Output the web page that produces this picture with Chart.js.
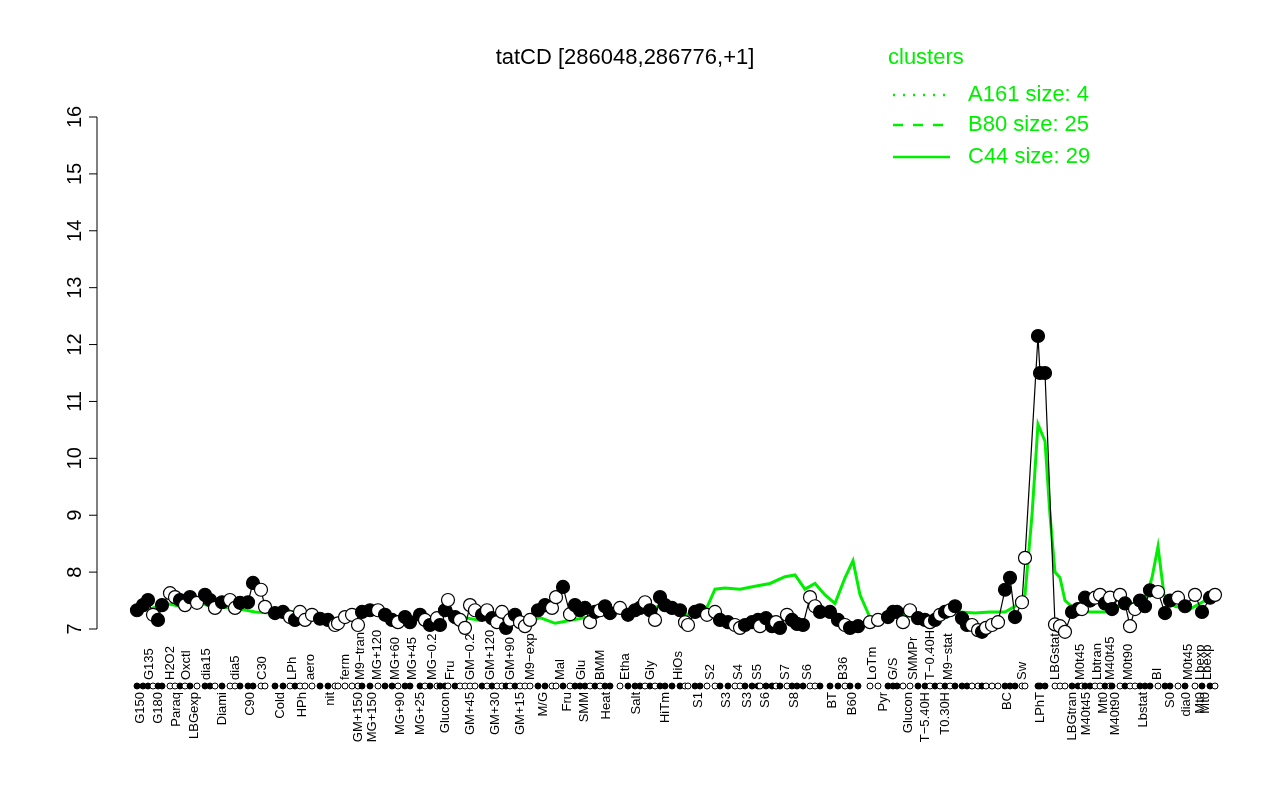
<!DOCTYPE html><html><head><meta charset="utf-8">
<script src="https://cdn.jsdelivr.net/npm/chart.js@4"></script>
<style>body{margin:0;background:#fff}</style></head><body><canvas id="c" width="1280" height="800" style="width:1280px;height:800px"></canvas>
<script>
const pointX=[137,143,148,153,158,162,170,175,180,185,190,197,205,210,215,222,230,235,240,248,253,261,265,275,283,290,295,300,305,312,320,328,335,338,345,352,358,362,370,378,385,392,398,405,410,420,425,430,437,440,445,448,455,460,465,470,475,482,487,492,497,502,506,510,515,520,525,530,538,545,552,556,563,570,575,580,585,590,595,600,605,610,620,628,635,640,645,650,655,660,665,672,680,685,688,695,700,707,715,720,728,735,740,745,752,758,760,766,772,776,780,787,792,797,803,810,815,820,830,838,845,850,858,870,878,888,893,897,903,910,918,925,930,935,940,945,950,955,962,967,972,978,982,986,992,998,1005,1010,1015,1022,1025,1038,1040,1045,1055,1060,1065,1072,1078,1082,1085,1090,1095,1100,1105,1110,1112,1120,1125,1130,1135,1140,1145,1150,1158,1165,1170,1178,1185,1195,1202,1210,1215];
const pointY=[7.33,7.42,7.51,7.25,7.16,7.42,7.63,7.56,7.51,7.42,7.56,7.46,7.6,7.51,7.37,7.47,7.51,7.37,7.46,7.47,7.81,7.69,7.39,7.28,7.3,7.21,7.16,7.3,7.16,7.25,7.18,7.16,7.07,7.1,7.21,7.25,7.07,7.3,7.33,7.33,7.25,7.16,7.12,7.21,7.12,7.25,7.16,7.07,7.19,7.07,7.33,7.51,7.21,7.16,7.02,7.42,7.33,7.25,7.33,7.19,7.12,7.3,7.02,7.16,7.25,7.12,7.05,7.16,7.33,7.42,7.37,7.56,7.74,7.26,7.42,7.33,7.37,7.12,7.3,7.33,7.4,7.28,7.37,7.25,7.33,7.37,7.47,7.33,7.16,7.56,7.42,7.37,7.33,7.12,7.07,7.3,7.33,7.25,7.3,7.16,7.12,7.07,7.02,7.07,7.12,7.16,7.05,7.19,7.05,7.12,7.02,7.25,7.16,7.09,7.07,7.56,7.4,7.3,7.3,7.16,7.07,7.02,7.05,7.12,7.16,7.21,7.3,7.3,7.12,7.33,7.19,7.16,7.12,7.16,7.25,7.3,7.33,7.4,7.19,7.07,7.07,6.98,6.95,7.02,7.07,7.12,7.69,7.9,7.21,7.47,8.25,12.15,11.5,11.5,7.08,7.05,6.95,7.3,7.35,7.35,7.55,7.5,7.55,7.6,7.45,7.55,7.35,7.6,7.45,7.05,7.35,7.5,7.4,7.68,7.65,7.28,7.5,7.55,7.4,7.6,7.3,7.55,7.6];
const pointFill=[1,1,1,0,1,1,0,0,1,0,1,0,1,1,0,1,0,0,1,1,1,0,0,1,1,0,1,0,0,0,1,1,0,0,0,0,0,1,1,0,1,1,0,1,1,1,0,1,0,1,1,0,1,0,0,0,0,1,0,1,0,0,1,0,1,0,0,0,1,1,0,0,1,0,1,1,1,0,1,0,1,1,0,1,1,1,0,1,0,1,1,1,1,0,0,1,1,0,0,1,1,0,0,1,1,1,0,1,1,0,1,0,1,1,1,0,0,1,1,1,0,1,1,0,0,1,1,1,0,0,1,1,0,1,0,1,0,1,1,1,0,0,1,0,0,0,1,1,1,0,0,1,1,1,0,0,0,1,1,0,1,1,0,0,1,0,1,0,1,0,0,1,1,1,0,1,1,0,1,0,1,1,0];
const greenX=[135,150,165,180,195,210,225,240,255,270,285,300,315,330,345,360,375,390,405,420,435,450,465,480,495,510,525,540,555,570,585,600,615,630,645,660,675,690,705,715,725,740,755,770,785,795,805,815,825,835,845,853,860,870,885,900,915,930,945,960,975,990,1005,1015,1025,1032,1038,1045,1050,1055,1060,1065,1075,1090,1105,1120,1135,1145,1152,1158,1164,1175,1190,1205,1215];
const greenY=[7.3,7.35,7.45,7.4,7.5,7.4,7.38,7.35,7.3,7.28,7.35,7.25,7.2,7.15,7.2,7.25,7.3,7.2,7.15,7.2,7.2,7.25,7.2,7.15,7.2,7.15,7.1,7.2,7.1,7.15,7.2,7.25,7.3,7.3,7.35,7.4,7.3,7.25,7.3,7.7,7.72,7.7,7.75,7.8,7.92,7.95,7.7,7.8,7.6,7.45,7.9,8.2,7.6,7.2,7.2,7.25,7.2,7.15,7.2,7.3,7.28,7.3,7.3,7.4,7.6,9.0,10.6,10.3,9.0,8.0,7.9,7.5,7.35,7.3,7.3,7.4,7.45,7.5,7.9,8.45,7.6,7.4,7.35,7.5,7.55];
const yTicks=[7,8,9,10,11,12,13,14,15,16];
const upperLabels=[[149,"G135"],[170,"H2O2"],[186,"Oxctl"],[206,"dia15"],[235,"dia5"],[262,"C30"],[292,"LPh"],[310,"aero"],[345,"ferm"],[360,"M9−tran"],[377,"MG+120"],[395,"MG+60"],[412,"MG+45"],[432,"MG−0.2"],[450,"Fru"],[470,"GM−0.2"],[490,"GM+120"],[510,"GM+90"],[530,"M9−exp"],[560,"Mal"],[581,"Glu"],[600,"BMM"],[625,"Etha"],[650,"Gly"],[678,"HiOs"],[710,"S2"],[738,"S4"],[757,"S5"],[785,"S7"],[807,"S6"],[843,"B36"],[872,"LoTm"],[893,"G/S"],[913,"SMMPr"],[930,"T−0.40H"],[948,"M9−stat"],[1022,"Sw"],[1055,"LBGstat"],[1080,"M0t45"],[1097,"Lbtran"],[1110,"M40t45"],[1128,"M0t90"],[1157,"BI"],[1188,"M0t45"],[1200,"Lbexp"],[1207,"Lbexp"]];
const lowerLabels=[[140,"G150"],[158,"G180"],[176,"Paraq"],[194,"LBGexp"],[222,"Diami"],[250,"C90"],[280,"Cold"],[302,"HPh"],[330,"nit"],[358,"GM+150"],[372,"MG+150"],[400,"MG+90"],[420,"MG+25"],[445,"Glucon"],[470,"GM+45"],[495,"GM+30"],[520,"GM+15"],[543,"M/G"],[567,"Fru"],[584,"SMM"],[606,"Heat"],[636,"Salt"],[665,"HiTm"],[698,"S1"],[726,"S3"],[747,"S3"],[765,"S6"],[794,"S8"],[832,"BT"],[852,"B60"],[883,"Pyr"],[908,"Glucon"],[925,"T−5.40H"],[945,"T0.30H"],[1007,"BC"],[1040,"LPhT"],[1072,"LBGtran"],[1086,"M40t45"],[1103,"Mt0"],[1115,"M40t90"],[1143,"Lbstat"],[1170,"S0"],[1186,"dia0"],[1200,"Mt0"],[1205,"Mt0"]];
const F='"Liberation Sans", Arial, sans-serif';
const deco={id:'deco',afterDraw(ch){
 const c=ch.ctx,xs=ch.scales.x,ys=ch.scales.y;c.save();
 c.strokeStyle='#000';c.lineWidth=1;
 const xa=97; c.beginPath();c.moveTo(xa,ys.getPixelForValue(7));c.lineTo(xa,ys.getPixelForValue(16));c.stroke();
 c.font='20px '+F;c.fillStyle='#000';
 yTicks.forEach(t=>{const p=ys.getPixelForValue(t);c.beginPath();c.moveTo(xa,p);c.lineTo(xa-8,p);c.stroke();
  c.save();c.translate(75,p);c.rotate(-Math.PI/2);c.textAlign='center';c.textBaseline='middle';c.fillText(String(t),0,0);c.restore();});
 pointX.forEach((x,i)=>{const px=xs.getPixelForValue(x);c.beginPath();c.arc(px,686,3,0,2*Math.PI);c.fillStyle=pointFill[i]?'#000':'#fff';c.fill();c.stroke();});
 c.font='13px '+F;c.fillStyle='#000';
 upperLabels.forEach(([x,t])=>{c.save();c.translate(xs.getPixelForValue(x),680);c.rotate(-Math.PI/2);c.textAlign='left';c.textBaseline='middle';c.fillText(t,0,0);c.restore();});
 lowerLabels.forEach(([x,t])=>{c.save();c.translate(xs.getPixelForValue(x),692);c.rotate(-Math.PI/2);c.textAlign='right';c.textBaseline='middle';c.fillText(t,0,0);c.restore();});
 c.font='22px '+F;c.textAlign='center';c.textBaseline='middle';c.fillText('tatCD [286048,286776,+1]',625,58);
 c.fillStyle='#00ee00';c.strokeStyle='#00ee00';c.textAlign='left';c.fillText('clusters',888,58);
 const lg=[[[2,8],'A161 size: 4',95],[[10,10],'B80 size: 25',125],[[],'C44 size: 29',157]];
 lg.forEach(([d,t,y])=>{c.setLineDash(d);c.lineWidth=2.5;c.beginPath();c.moveTo(893,y);c.lineTo(950,y);c.stroke();c.setLineDash([]);c.fillText(t,968,y);});
 c.restore();}};
new Chart(document.getElementById('c'),{type:'scatter',
 data:{datasets:[
  {data:pointX.map((x,i)=>({x,y:pointY[i]})),showLine:true,clip:false,borderColor:'#000',borderWidth:1.2,pointRadius:6.5,pointBackgroundColor:pointFill.map(f=>f?'#000':'#fff'),pointBorderColor:'#000',pointBorderWidth:1.2,order:1},
  {data:greenX.map((x,i)=>({x,y:greenY[i]})),showLine:true,clip:false,borderColor:'#00ee00',borderWidth:3,pointRadius:0,order:2}]},
 options:{responsive:false,animation:false,devicePixelRatio:1,
  layout:{padding:{left:100,right:55,top:117,bottom:171}},
  plugins:{legend:{display:false},tooltip:{enabled:false}},
  scales:{x:{type:'linear',min:100,max:1225,display:false},
   y:{min:7,max:16,display:false}}}, plugins:[deco]});
</script></body></html>
